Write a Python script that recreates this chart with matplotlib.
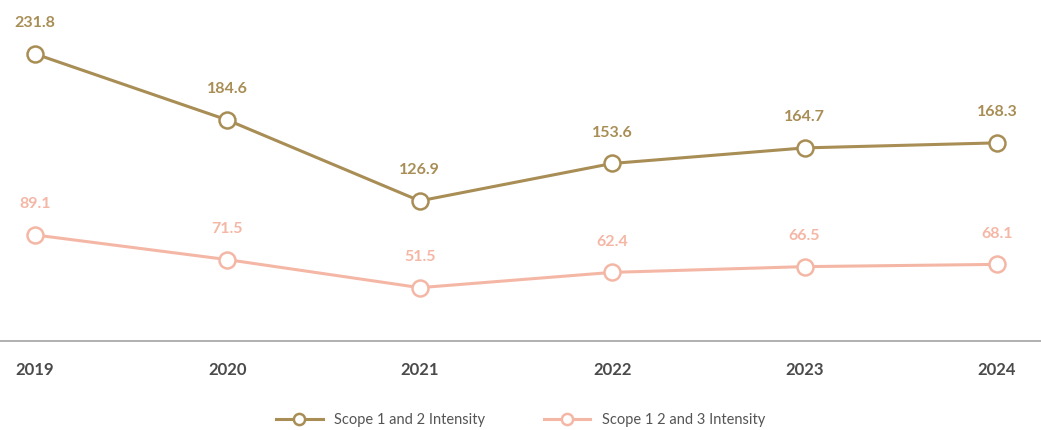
import matplotlib
matplotlib.use("Agg")
import matplotlib.pyplot as plt

years = ["2019", "2020", "2021", "2022", "2023", "2024"]
scope12 = [231.8, 184.6, 126.9, 153.6, 164.7, 168.3]
scope123 = [89.1, 71.5, 51.5, 62.4, 66.5, 68.1]

gold = "#a88d55"
pink = "#f5b7a5"
plt.rcParams['font.family'] = ['Lato', 'DejaVu Sans']

fig = plt.figure(figsize=(10.41, 4.30), dpi=100)
ax = fig.add_axes([0, 0.207, 1, 0.77])
ax2 = ax.twinx()

x = list(range(len(years)))
ax.plot(x, scope12, color=gold, lw=2.2, marker="o", ms=11.5, mfc="white",
        mec=gold, mew=1.8, label="Scope 1 and 2 Intensity", zorder=3)
ax2.plot(x, scope123, color=pink, lw=2.2, marker="o", ms=11.5, mfc="white",
         mec=pink, mew=1.8, label="Scope 1 2 and 3 Intensity", zorder=3)

for xi, v in zip(x, scope12):
    ax.annotate(f"{v:.1f}", (xi, v), xytext=(0, 17), textcoords="offset points",
                ha="center", va="bottom", color=gold, fontsize=11.5, fontweight="bold")
for xi, v in zip(x, scope123):
    ax2.annotate(f"{v:.1f}", (xi, v), xytext=(0, 17), textcoords="offset points",
                 ha="center", va="bottom", color=pink, fontsize=11.5, fontweight="bold")

ax.set_xlim(-0.182, 5.229)
ax.set_ylim(26.9, 263.2)
ax2.set_ylim(13.44, 249.7)

for a in (ax, ax2):
    for s in ("top", "left", "right"):
        a.spines[s].set_visible(False)
    a.spines["bottom"].set_color("#b0b0b0")
    a.spines["bottom"].set_linewidth(1.2)
    a.set_yticks([])

ax.set_xticks(x)
ax.set_xticklabels(years, fontsize=12, fontweight="bold", color="#4a4a4a")
ax.tick_params(axis="x", length=0, pad=15)

h1, l1 = ax.get_legend_handles_labels()
h2, l2 = ax2.get_legend_handles_labels()
fig.legend(h1 + h2, l1 + l2, loc="center", bbox_to_anchor=(0.5, 0.023), ncol=2,
           frameon=False, fontsize=10.5, labelcolor="#555555", handlelength=3.2,
           columnspacing=4, markerscale=0.7)

fig.savefig("out.png", dpi=100)
